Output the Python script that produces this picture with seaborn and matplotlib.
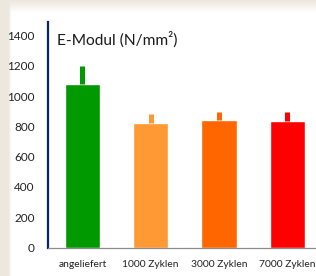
import numpy as np
import matplotlib
matplotlib.use("Agg")
import matplotlib.pyplot as plt
import seaborn as sns

categories = ["angeliefert", "1000 Zyklen", "3000 Zyklen", "7000 Zyklen"]
values = [1081, 823, 843, 836]
upper = [1200, 882, 895, 895]
colors = ["#009900", "#ff9933", "#ff6600", "#ff0000"]
yticks = [0, 200, 400, 600, 800, 1000, 1200, 1400]
title = "E-Modul (N/mm²)"

sns.set_style("white")
plt.rcParams["font.family"] = ["Lato", "DejaVu Sans"]

W, H = 316, 276
fig = plt.figure(figsize=(W / 100, H / 100), dpi=100, facecolor="white")

# background frame (beige strips on left and top)
bg = fig.add_axes([0, 0, 1, 1], zorder=-10)
img = np.ones((H, W, 3))
beige = np.array([0.93, 0.91, 0.87])
for yy in range(H):
    for_top = max(0.0, min(1.0, (12 - yy) / 12.0))
    img[yy, :, :] = img[yy, :, :] * (1 - for_top) + beige * for_top
left_w = np.clip((11 - np.arange(W)) / 3.0, 0, 1)
img = img * (1 - left_w[None, :, None]) + beige[None, None, :] * left_w[None, :, None]
bg.imshow(img, aspect="auto", extent=[0, W, H, 0])
bg.set_axis_off()

ax = fig.add_axes([48 / W, 1 - 247.5 / H, 1 - 48 / W + 0.002, (247.5 - 22) / H])
ax.set_facecolor("none")
sns.barplot(x=categories, y=values, hue=categories, palette=colors, legend=False,
            width=0.515, ax=ax, errorbar=None, saturation=1)
for i, (v, u, c) in enumerate(zip(values, upper, colors)):
    ax.errorbar([i], [v], yerr=[[0], [u - v]], fmt="none", ecolor=c,
                elinewidth=3.6, capsize=0, zorder=1)

ax.set_ylim(0, 1490)
ax.set_xlim(-0.505, 3.43)
ax.set_yticks(yticks)
ax.set_yticklabels([str(t) for t in yticks])
ax.tick_params(axis="y", length=0, pad=9.5, labelsize=8.5, labelcolor="#222222")
ax.tick_params(axis="x", length=0, pad=9, labelsize=7.4, labelcolor="#222222")
ax.set_xlabel("")
ax.set_ylabel("")
for s in ["top", "right"]:
    ax.spines[s].set_visible(False)
ax.spines["left"].set_color("#0a2467")
ax.spines["left"].set_linewidth(1.6)
ax.spines["bottom"].set_color("#8c8c8c")
ax.spines["bottom"].set_linewidth(0.9)

fig.text(57 / W, 1 - 40 / H, title, fontsize=11.2, color="#1a1a1a", va="center", ha="left")

fig.savefig("out.png", dpi=100, facecolor="white")
